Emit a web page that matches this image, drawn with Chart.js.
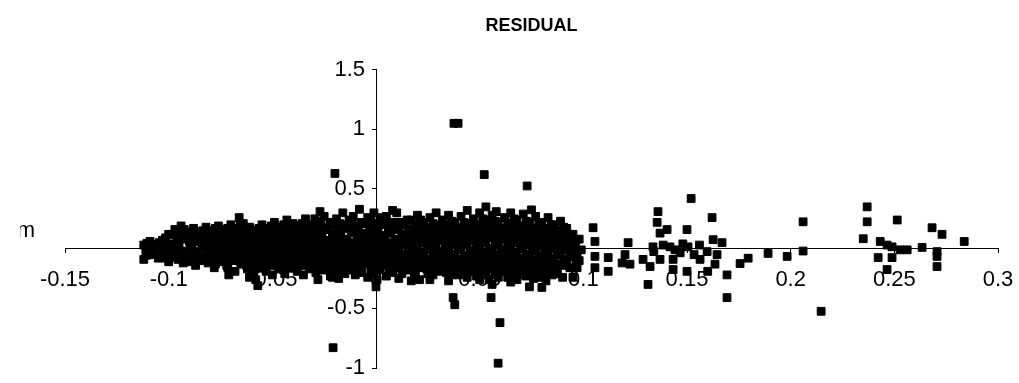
<!DOCTYPE html>
<html>
<head>
<meta charset="utf-8">
<script src="https://cdn.jsdelivr.net/npm/chart.js@4.4.0/dist/chart.umd.min.js"></script>
<style>
  html, body { margin: 0; padding: 0; background: #fff; }
  #wrap { width: 1019px; height: 383px; }
</style>
</head>
<body>
<div id="wrap"><canvas id="residualChart"></canvas></div>
<script>
// tick positions as printed on the original axes
const xTickValues = [-0.15, -0.1, -0.05, 0, 0.05, 0.1, 0.15, 0.2, 0.25, 0.3];
const yTickValues = [-1, -0.5, 0, 0.5, 1, 1.5];

// dense cloud of residuals
const cloud = [
  [-0.112,0.03],[-0.111,-0.02],[-0.112,-0.09],
  [-0.109,0.06],[-0.108,0.0],[-0.109,-0.05],
  [-0.106,0.02],[-0.105,-0.08],
  [-0.103,0.07],[-0.102,-0.03],[-0.104,0.01],
  [-0.100,0.12],[-0.099,0.04],[-0.101,-0.06],[-0.100,-0.11],
  [-0.097,0.16],[-0.096,0.08],[-0.098,0.0],[-0.097,-0.07],
  [-0.094,0.19],[-0.093,0.1],[-0.095,0.03],[-0.094,-0.04],[-0.093,-0.12],
  [-0.091,0.14],[-0.090,0.06],[-0.092,-0.02],[-0.091,-0.09],
  [-0.088,0.17],[-0.087,0.09],[-0.089,0.01],[-0.088,-0.06],[-0.087,-0.14],
  [-0.085,0.12],[-0.084,0.05],[-0.086,-0.03],[-0.085,-0.1],
  [-0.082,0.18],[-0.081,0.11],[-0.083,0.02],[-0.082,-0.05],[-0.081,-0.12],
  [-0.079,0.15],[-0.078,0.07],[-0.080,-0.01],[-0.079,-0.08],[-0.078,-0.16],
  [-0.076,0.19],[-0.075,0.12],[-0.077,0.04],[-0.076,-0.04],[-0.075,-0.11],
  [-0.073,0.16],[-0.072,0.08],[-0.074,0.0],[-0.073,-0.07],[-0.072,-0.14],[-0.071,-0.22],
  [-0.070,0.2],[-0.069,0.13],[-0.071,0.05],[-0.070,-0.03],[-0.069,-0.1],[-0.068,-0.19],
  [-0.067,0.17],[-0.066,0.26],[-0.068,0.09],[-0.067,0.01],[-0.066,-0.06],[-0.065,-0.13],
  [-0.064,0.21],[-0.063,0.14],[-0.065,0.06],[-0.064,-0.02],[-0.063,-0.09],[-0.062,-0.17],[-0.061,-0.24],
  [-0.061,0.18],[-0.060,0.1],[-0.062,0.03],[-0.061,-0.05],[-0.060,-0.12],[-0.059,-0.21],
  [-0.058,0.15],[-0.057,0.07],[-0.059,-0.01],[-0.058,-0.08],[-0.057,-0.16],[-0.057,-0.31],[-0.058,-0.26],
  [-0.055,0.2],[-0.054,0.12],[-0.056,0.04],[-0.055,-0.04],[-0.054,-0.11],[-0.053,-0.19],
  [-0.052,0.17],[-0.051,0.09],[-0.053,0.01],[-0.052,-0.07],[-0.051,-0.14],[-0.050,-0.22],
  [-0.049,0.22],[-0.048,0.14],[-0.050,0.06],[-0.049,-0.02],[-0.048,-0.1],[-0.047,-0.17],
  [-0.046,0.18],[-0.045,0.1],[-0.047,0.03],[-0.046,-0.05],[-0.045,-0.13],[-0.044,-0.21],
  [-0.043,0.24],[-0.042,0.15],[-0.044,0.07],[-0.043,-0.01],[-0.042,-0.08],[-0.041,-0.15],
  [-0.040,0.21],[-0.039,0.12],[-0.041,0.04],[-0.040,-0.04],[-0.039,-0.11],[-0.038,-0.19],
  [-0.037,0.19],[-0.036,0.11],[-0.038,0.02],[-0.037,-0.06],[-0.036,-0.14],[-0.035,-0.22],
  [-0.034,0.25],[-0.033,0.16],[-0.035,0.08],[-0.034,0.0],[-0.033,-0.09],[-0.032,-0.17],
  [-0.031,0.2],[-0.030,0.12],[-0.032,0.04],[-0.031,-0.04],[-0.030,-0.12],[-0.029,-0.2],
  [-0.027,0.31],[-0.028,0.23],[-0.027,0.14],[-0.029,0.06],[-0.028,-0.02],[-0.027,-0.1],[-0.026,-0.18],[-0.028,-0.26],
  [-0.025,0.27],[-0.024,0.18],[-0.026,0.09],[-0.025,0.01],[-0.024,-0.07],[-0.023,-0.15],[-0.022,-0.23],
  [-0.022,0.22],[-0.021,0.13],[-0.023,0.05],[-0.022,-0.03],[-0.021,-0.11],[-0.020,-0.19],[-0.021,-0.24],
  [-0.019,0.25],[-0.018,0.16],[-0.020,0.07],[-0.019,-0.01],[-0.018,-0.09],[-0.017,-0.17],[-0.018,-0.25],
  [-0.016,0.3],[-0.015,0.2],[-0.017,0.11],[-0.016,0.03],[-0.015,-0.05],[-0.014,-0.13],[-0.015,-0.21],
  [-0.013,0.24],[-0.012,0.15],[-0.014,0.06],[-0.013,-0.02],[-0.012,-0.1],[-0.011,-0.18],
  [-0.011,0.27],[-0.010,0.19],[-0.009,0.1],[-0.011,0.02],[-0.010,-0.06],[-0.009,-0.14],[-0.010,-0.22],
  [-0.008,0.33],[-0.007,0.22],[-0.006,0.13],[-0.008,0.04],[-0.007,-0.04],[-0.006,-0.12],[-0.007,-0.2],
  [-0.004,0.26],[-0.003,0.17],[-0.005,0.08],[-0.004,0.0],[-0.003,-0.08],[-0.002,-0.16],[-0.004,-0.24],
  [-0.001,0.3],[0.000,0.21],[-0.002,0.12],[-0.001,0.03],[0.000,-0.05],[0.001,-0.13],[-0.001,-0.21],[0.000,-0.32],
  [0.002,0.26],[0.003,0.24],[0.001,0.15],[0.002,0.06],[0.003,-0.02],[0.004,-0.1],[0.002,-0.18],
  [0.005,0.27],[0.006,0.18],[0.004,0.09],[0.005,0.01],[0.006,-0.07],[0.007,-0.15],[0.005,-0.23],
  [0.008,0.32],[0.009,0.22],[0.007,0.13],[0.008,0.04],[0.009,-0.04],[0.010,-0.12],[0.008,-0.2],
  [0.010,0.3],[0.011,0.16],[0.012,0.07],[0.011,-0.01],[0.012,-0.09],[0.013,-0.17],[0.011,-0.25],
  [0.015,0.24],[0.014,0.2],[0.015,0.11],[0.016,0.02],[0.014,-0.06],[0.015,-0.14],
  [0.017,0.24],[0.018,0.15],[0.019,0.06],[0.017,-0.03],[0.018,-0.11],[0.019,-0.19],[0.017,-0.27],
  [0.020,0.28],[0.021,0.19],[0.022,0.09],[0.020,0.0],[0.021,-0.08],[0.022,-0.16],[0.021,-0.26],
  [0.023,0.22],[0.024,0.13],[0.025,0.04],[0.023,-0.05],[0.024,-0.13],[0.025,-0.21],
  [0.026,0.26],[0.027,0.17],[0.028,0.08],[0.026,-0.01],[0.027,-0.1],[0.028,-0.18],[0.026,-0.26],
  [0.029,0.3],[0.030,0.2],[0.031,0.11],[0.029,0.02],[0.030,-0.07],[0.031,-0.15],[0.032,-0.175],
  [0.032,0.24],[0.033,0.15],[0.034,0.06],[0.032,-0.03],[0.033,-0.12],[0.034,-0.2],
  [0.035,0.28],[0.036,0.18],[0.037,0.09],[0.035,0.0],[0.036,-0.09],[0.037,-0.17],[0.035,-0.27],
  [0.038,0.22],[0.039,0.13],[0.040,0.04],[0.038,-0.05],[0.039,-0.14],[0.040,-0.22],
  [0.041,0.27],[0.042,0.17],[0.043,0.08],[0.041,-0.01],[0.042,-0.1],[0.043,-0.19],
  [0.044,0.32],[0.045,0.21],[0.046,0.12],[0.044,0.03],[0.045,-0.06],[0.046,-0.15],[0.044,-0.24],
  [0.047,0.25],[0.048,0.16],[0.049,0.07],[0.047,-0.02],[0.048,-0.11],[0.049,-0.2],
  [0.050,0.3],[0.051,0.2],[0.052,0.1],[0.050,0.01],[0.051,-0.08],[0.052,-0.17],[0.050,-0.26],
  [0.053,0.35],[0.054,0.24],[0.055,0.14],[0.053,0.05],[0.054,-0.04],[0.055,-0.13],[0.053,-0.22],
  [0.056,0.28],[0.057,0.18],[0.058,0.09],[0.056,0.0],[0.057,-0.09],[0.058,-0.18],[0.056,-0.3],
  [0.058,0.31],[0.059,0.22],[0.060,0.12],[0.059,0.03],[0.060,-0.06],[0.061,-0.15],[0.059,-0.24],
  [0.062,0.26],[0.063,0.16],[0.064,0.07],[0.062,-0.02],[0.063,-0.11],[0.064,-0.2],
  [0.065,0.3],[0.066,0.2],[0.067,0.1],[0.065,0.01],[0.066,-0.08],[0.067,-0.17],[0.065,-0.28],
  [0.068,0.24],[0.069,0.14],[0.070,0.05],[0.068,-0.04],[0.069,-0.13],[0.070,-0.22],[0.068,-0.26],
  [0.071,0.29],[0.072,0.18],[0.073,0.09],[0.071,0.0],[0.072,-0.09],[0.073,-0.18],
  [0.075,0.325],[0.074,0.22],[0.075,0.12],[0.076,0.03],[0.074,-0.06],[0.075,-0.15],[0.074,-0.32],[0.076,-0.25],
  [0.077,0.27],[0.078,0.16],[0.079,0.07],[0.077,-0.02],[0.078,-0.11],[0.079,-0.2],
  [0.080,0.22],[0.081,0.12],[0.082,0.03],[0.080,-0.06],[0.081,-0.16],[0.080,-0.325],[0.082,-0.27],
  [0.083,0.26],[0.084,0.15],[0.085,0.05],[0.083,-0.04],[0.084,-0.13],[0.085,-0.22],
  [0.086,0.2],[0.087,0.1],[0.088,0.01],[0.086,-0.08],[0.087,-0.18],
  [0.089,0.23],[0.090,0.13],[0.091,0.04],[0.089,-0.05],[0.090,-0.14],[0.090,-0.24],
  [0.092,0.17],[0.093,0.07],[0.094,-0.02],[0.092,-0.11],
  [0.095,0.12],[0.096,0.03],[0.097,-0.06],[0.095,-0.24],[0.097,-0.16],
  [0.098,0.08],[0.099,-0.01],[0.098,-0.1]
];

// more points packed between the columns above, where the cloud is solid black
const cloudCore = [
  [-0.1105,0.045],[-0.1105,-0.055],
  [-0.1075,0.035],[-0.1075,-0.03],
  [-0.1045,0.05],[-0.1045,-0.06],
  [-0.1015,0.09],[-0.1015,0.0],[-0.1015,-0.08],
  [-0.0985,0.12],[-0.0985,0.03],[-0.0985,-0.04],
  [-0.0955,0.14],[-0.0955,0.06],[-0.0955,-0.02],[-0.0955,-0.09],
  [-0.0925,0.16],[-0.0925,0.08],[-0.0925,-0.06],
  [-0.0895,0.11],[-0.0895,0.03],[-0.0895,-0.11],
  [-0.0865,0.14],[-0.0865,0.06],[-0.0865,-0.02],[-0.0865,-0.09],
  [-0.0835,0.15],[-0.0835,0.08],[-0.0835,-0.08],
  [-0.0805,0.13],[-0.0805,0.04],[-0.0805,-0.03],[-0.0805,-0.1],
  [-0.0775,0.17],[-0.0775,0.09],[-0.0775,0.01],[-0.0775,-0.06],[-0.0775,-0.13],
  [-0.0745,0.14],[-0.0745,0.06],[-0.0745,-0.02],[-0.0745,-0.09],
  [-0.0715,0.17],[-0.0715,0.1],[-0.0715,0.02],[-0.0715,-0.05],[-0.0715,-0.16],
  [-0.0685,0.15],[-0.0685,0.07],[-0.0685,-0.01],[-0.0685,-0.08],
  [-0.0655,0.19],[-0.0655,0.11],[-0.0655,0.03],[-0.0655,-0.04],[-0.0655,-0.11],
  [-0.0625,0.16],[-0.0625,0.08],[-0.0625,0.0],[-0.0625,-0.07],[-0.0625,-0.14],
  [-0.0595,0.13],[-0.0595,0.05],[-0.0595,-0.03],[-0.0595,-0.1],[-0.0595,-0.18],
  [-0.0565,0.17],[-0.0565,0.1],[-0.0565,0.02],[-0.0565,-0.06],[-0.0565,-0.13],
  [-0.0535,0.15],[-0.0535,0.06],[-0.0535,-0.02],[-0.0535,-0.09],[-0.0535,-0.16],
  [-0.0505,0.19],[-0.0505,0.12],[-0.0505,0.04],[-0.0505,-0.04],[-0.0505,-0.12],
  [-0.0475,0.16],[-0.0475,0.08],[-0.0475,0.0],[-0.0475,-0.07],[-0.0475,-0.14],
  [-0.0445,0.2],[-0.0445,0.12],[-0.0445,0.05],[-0.0445,-0.03],[-0.0445,-0.1],[-0.0445,-0.18],
  [-0.0415,0.17],[-0.0415,0.09],[-0.0415,0.01],[-0.0415,-0.06],[-0.0415,-0.13],
  [-0.0385,0.15],[-0.0385,0.07],[-0.0385,-0.02],[-0.0385,-0.09],[-0.0385,-0.16],
  [-0.0355,0.21],[-0.0355,0.13],[-0.0355,0.04],[-0.0355,-0.04],[-0.0355,-0.11],
  [-0.0325,0.18],[-0.0325,0.1],[-0.0325,0.02],[-0.0325,-0.06],[-0.0325,-0.14],
  [-0.0295,0.25],[-0.0295,0.16],[-0.0295,0.08],[-0.0295,0.0],[-0.0295,-0.08],[-0.0295,-0.16],
  [-0.0265,0.2],[-0.0265,0.11],[-0.0265,0.03],[-0.0265,-0.05],[-0.0265,-0.13],
  [-0.0235,0.16],[-0.0235,0.07],[-0.0235,-0.01],[-0.0235,-0.09],[-0.0235,-0.17],
  [-0.0205,0.2],[-0.0205,0.1],[-0.0205,0.02],[-0.0205,-0.06],[-0.0205,-0.14],
  [-0.0175,0.21],[-0.0175,0.13],[-0.0175,0.05],[-0.0175,-0.03],[-0.0175,-0.11],[-0.0175,-0.2],
  [-0.0145,0.17],[-0.0145,0.08],[-0.0145,0.0],[-0.0145,-0.08],[-0.0145,-0.16],
  [-0.0115,0.22],[-0.0115,0.13],[-0.0115,0.05],[-0.0115,-0.03],[-0.0115,-0.12],
  [-0.0085,0.17],[-0.0085,0.08],[-0.0085,0.0],[-0.0085,-0.08],[-0.0085,-0.16],
  [-0.0055,0.21],[-0.0055,0.12],[-0.0055,0.03],[-0.0055,-0.05],[-0.0055,-0.13],
  [-0.0025,0.24],[-0.0025,0.15],[-0.0025,0.06],[-0.0025,-0.02],[-0.0025,-0.11],[-0.0025,-0.19],
  [0.0005,0.18],[0.0005,0.09],[0.0005,0.0],[0.0005,-0.08],[0.0005,-0.16],[0.0005,-0.26],
  [0.0035,0.2],[0.0035,0.11],[0.0035,0.02],[0.0035,-0.06],[0.0035,-0.14],
  [0.0065,0.22],[0.0065,0.13],[0.0065,0.05],[0.0065,-0.03],[0.0065,-0.11],[0.0065,-0.19],
  [0.0095,0.17],[0.0095,0.08],[0.0095,0.0],[0.0095,-0.08],[0.0095,-0.16],
  [0.0125,0.22],[0.0125,0.12],[0.0125,0.03],[0.0125,-0.05],[0.0125,-0.13],[0.0125,-0.21],
  [0.0155,0.16],[0.0155,0.07],[0.0155,-0.02],[0.0155,-0.1],[0.0155,-0.18],
  [0.0185,0.2],[0.0185,0.1],[0.0185,0.01],[0.0185,-0.07],[0.0185,-0.15],[0.0185,-0.23],
  [0.0215,0.24],[0.0215,0.14],[0.0215,0.05],[0.0215,-0.04],[0.0215,-0.12],
  [0.0245,0.18],[0.0245,0.08],[0.0245,0.0],[0.0245,-0.09],[0.0245,-0.17],
  [0.0275,0.21],[0.0275,0.12],[0.0275,0.03],[0.0275,-0.05],[0.0275,-0.14],[0.0275,-0.22],
  [0.0305,0.16],[0.0305,0.07],[0.0305,-0.02],[0.0305,-0.11],[0.0305,-0.19],
  [0.0335,0.2],[0.0335,0.1],[0.0335,0.01],[0.0335,-0.07],[0.0335,-0.16],
  [0.0365,0.23],[0.0365,0.13],[0.0365,0.04],[0.0365,-0.05],[0.0365,-0.13],[0.0365,-0.22],
  [0.0395,0.18],[0.0395,0.08],[0.0395,0.0],[0.0395,-0.09],[0.0395,-0.18],
  [0.0425,0.22],[0.0425,0.12],[0.0425,0.03],[0.0425,-0.06],[0.0425,-0.14],
  [0.0455,0.16],[0.0455,0.07],[0.0455,-0.02],[0.0455,-0.1],[0.0455,-0.19],
  [0.0485,0.2],[0.0485,0.11],[0.0485,0.02],[0.0485,-0.06],[0.0485,-0.15],[0.0485,-0.23],
  [0.0515,0.25],[0.0515,0.15],[0.0515,0.05],[0.0515,-0.03],[0.0515,-0.12],[0.0515,-0.21],
  [0.0545,0.19],[0.0545,0.09],[0.0545,0.0],[0.0545,-0.08],[0.0545,-0.17],[0.0545,-0.26],
  [0.0575,0.23],[0.0575,0.13],[0.0575,0.04],[0.0575,-0.05],[0.0575,-0.13],[0.0575,-0.22],
  [0.0605,0.17],[0.0605,0.08],[0.0605,-0.01],[0.0605,-0.1],[0.0605,-0.19],
  [0.0635,0.21],[0.0635,0.11],[0.0635,0.02],[0.0635,-0.06],[0.0635,-0.15],[0.0635,-0.24],
  [0.0665,0.25],[0.0665,0.15],[0.0665,0.05],[0.0665,-0.03],[0.0665,-0.12],[0.0665,-0.21],
  [0.0695,0.19],[0.0695,0.09],[0.0695,0.0],[0.0695,-0.08],[0.0695,-0.17],
  [0.0725,0.23],[0.0725,0.13],[0.0725,0.04],[0.0725,-0.05],[0.0725,-0.14],[0.0725,-0.23],
  [0.0755,0.17],[0.0755,0.08],[0.0755,-0.01],[0.0755,-0.1],[0.0755,-0.19],
  [0.0785,0.21],[0.0785,0.11],[0.0785,0.02],[0.0785,-0.07],[0.0785,-0.15],[0.0785,-0.24],
  [0.0815,0.17],[0.0815,0.07],[0.0815,-0.02],[0.0815,-0.11],[0.0815,-0.2],
  [0.0845,0.2],[0.0845,0.1],[0.0845,0.0],[0.0845,-0.09],[0.0845,-0.17],
  [0.0875,0.15],[0.0875,0.06],[0.0875,-0.03],[0.0875,-0.13],[0.0875,-0.21],
  [0.0905,0.18],[0.0905,0.09],[0.0905,-0.01],[0.0905,-0.09],
  [0.0935,0.12],[0.0935,0.02],[0.0935,-0.07],[0.0935,-0.16],
  [0.0965,0.07],[0.0965,-0.03],[0.0965,-0.12]
];

// thinner scatter to the right of 0.1
const rightSide = [
  [0.1047,0.175],[0.1056,0.06],[0.1056,-0.065],[0.1056,-0.16],[0.112,-0.075],[0.112,-0.19],
  [0.1216,0.05],[0.1187,-0.12],[0.1225,-0.13],[0.1201,-0.05],[0.1288,-0.09],[0.1336,0.015],
  [0.1356,0.22],[0.136,0.31],[0.137,0.13],[0.1404,0.16],[0.1418,0.015],[0.1433,-0.09],
  [0.1467,-0.035],[0.15,0.16],[0.1505,0.015],[0.137,-0.09],[0.1322,-0.15],[0.1433,-0.175],
  [0.15,-0.19],[0.1563,-0.09],[0.1597,-0.025],[0.1626,0.075],[0.1669,0.05],[0.1645,-0.05],
  [0.1635,-0.13],[0.16,-0.19],[0.1693,-0.22],[0.1621,0.26],[0.152,0.42],[0.1693,-0.41],
  [0.1312,-0.3],[0.1385,0.03],[0.1442,-0.01],[0.148,0.04],[0.134,-0.025],[0.1534,-0.05],
  [0.156,0.03],[0.1756,-0.125],[0.1795,-0.08],[0.1891,-0.04],[0.1983,-0.065],[0.206,-0.02],
  [0.206,0.225],[0.2147,-0.525],[0.2369,0.35],[0.2369,0.225],[0.235,0.083],[0.2432,0.06],
  [0.2465,0.03],[0.2489,0.015],[0.2489,-0.075],[0.2422,-0.075],[0.2465,-0.175],[0.2514,0.24],
  [0.2528,-0.01],[0.2562,-0.01],[0.2634,0.01],[0.2682,0.175],[0.273,0.12],[0.2706,-0.025],
  [0.2706,-0.065],[0.2706,-0.15],[0.2837,0.06]
];

// isolated large residuals
const outliers = [
  [0.0376,1.05],[0.0396,1.05],[-0.0198,0.63],[0.0522,0.62],[0.0729,0.525],
  [-0.0207,-0.83],[0.0589,-0.96],[0.0598,-0.62],[0.038,-0.47],[0.0372,-0.41],[0.0555,-0.41]
];

const allPoints = cloud.concat(cloudCore, rightSide, outliers).map(p => ({ x: p[0], y: p[1] }));

const labelFont = { family: "'Liberation Sans', Arial, sans-serif", size: 22 };

function zeroPadding(s) {
  s.paddingTop = 0; s.paddingBottom = 0; s.paddingLeft = 0; s.paddingRight = 0;
}

var ctx = document.getElementById('residualChart').getContext('2d');

var residualChart = new Chart(ctx, {
  type: 'scatter',
  data: {
    datasets: [{
      label: 'RESIDUAL',
      data: allPoints,
      xAxisID: 'x',
      yAxisID: 'y',
      pointStyle: 'rect',
      pointRadius: 5.5,
      pointHoverRadius: 5.5,
      backgroundColor: '#000',
      borderColor: '#000',
      borderWidth: 1
    }]
  },
  options: {
    responsive: true,
    maintainAspectRatio: false,
    animation: false,
    layout: { padding: { left: 20, right: 21, top: 0, bottom: 15 } },
    plugins: {
      legend: { display: false },
      tooltip: { enabled: false },
      title: {
        display: true,
        text: 'RESIDUAL',
        fullSize: false,
        color: '#000',
        font: { family: "'Liberation Sans', Arial, sans-serif", size: 18, weight: 'bold' },
        padding: { top: 15, bottom: 33 }
      }
    },
    scales: {
      // left-hand axis that only carries the unrotated "m" label
      yLabel: {
        type: 'linear',
        position: 'left',
        min: -1,
        max: 1.5,
        afterBuildTicks: s => { s.ticks = [{ value: 0.15 }]; },
        afterFit: s => { s.width = 45; zeroPadding(s); },
        ticks: { callback: () => 'm', color: '#000', font: labelFont, padding: 30 },
        grid: { display: false, drawTicks: false },
        border: { display: false }
      },
      x: {
        type: 'linear',
        min: -0.15,
        max: 0.3,
        position: { y: 0 },
        afterBuildTicks: s => { s.ticks = xTickValues.map(v => ({ value: v })); },
        afterFit: s => { s.height = 0; zeroPadding(s); },
        ticks: { color: '#000', font: labelFont, padding: 14, maxRotation: 0, autoSkip: false, callback: v => String(v) },
        grid: { drawOnChartArea: false, drawTicks: true, tickLength: 4, color: '#000' },
        border: { color: '#000', width: 1 }
      },
      y: {
        type: 'linear',
        min: -1,
        max: 1.5,
        position: { x: 0 },
        afterBuildTicks: s => { s.ticks = yTickValues.map(v => ({ value: v })); },
        afterFit: s => { s.width = 0; zeroPadding(s); },
        // en space keeps the labels clear of the axis line, as in the original
        ticks: { color: '#000', font: labelFont, padding: 8, callback: v => String(v) + '\u2002' },
        grid: { drawOnChartArea: false, drawTicks: true, tickLength: 4, color: '#000' },
        border: { color: '#000', width: 1 }
      }
    }
  }
});
</script>
</body>
</html>
